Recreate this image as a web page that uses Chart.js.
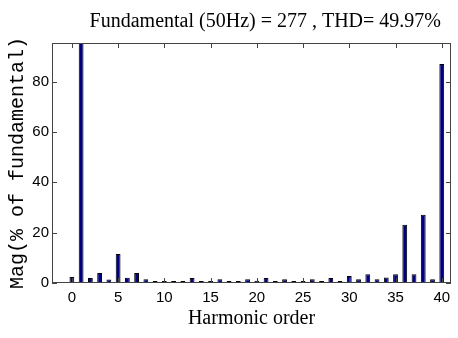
<!DOCTYPE html>
<html>
<head>
<meta charset="utf-8">
<script src="https://cdn.jsdelivr.net/npm/chart.js@4/dist/chart.umd.min.js"></script>
<style>
  body { margin: 0; background: #fff; }
  #wrap { width: 458px; height: 338px; }
</style>
</head>
<body>
<div id="wrap"><canvas id="harmChart"></canvas></div>
<script>
// harmonic order 0..40 and magnitude in % of fundamental
const harmonics = [0, 1, 2, 3, 4, 5, 6, 7, 8, 9, 10, 11, 12, 13, 14, 15, 16, 17, 18, 19, 20,
                   21, 22, 23, 24, 25, 26, 27, 28, 29, 30, 31, 32, 33, 34, 35, 36, 37, 38, 39, 40];
const magnitude = [2.4, 100, 2.0, 4.0, 1.4, 11.5, 2.1, 4.0, 1.5, 0.8, 0.8, 0.8, 0.8, 2.0, 0.8, 0.8, 1.5, 0.8, 0.8, 1.5, 0.9,
                   2.0, 0.8, 1.5, 0.8, 0.8, 1.5, 0.8, 2.0, 0.8, 2.8, 1.5, 3.5, 1.5, 2.2, 3.5, 23.1, 3.5, 27.1, 1.5, 87.0];
const xTicks = [0, 5, 10, 15, 20, 25, 30, 35, 40];
const yTicks = [0, 20, 40, 60, 80];
const titleText = 'Fundamental (50Hz) = 277 , THD= 49.97%';

const frameColor = '#444';

// matlab style box with inward ticks on all four sides
const boxTicks = {
    id: 'boxTicks',
    afterDraw(chart) {
        const { ctx, chartArea: a, scales: { x, y } } = chart;
        const len = 5;
        ctx.save();
        ctx.strokeStyle = frameColor;
        ctx.lineWidth = 1;
        ctx.strokeRect(a.left + 0.5, a.top + 0.5, a.right - a.left - 1, a.bottom - a.top - 1);
        ctx.beginPath();
        xTicks.forEach(v => {
            const px = Math.round(x.getPixelForValue(v)) + 0.5;
            ctx.moveTo(px, a.bottom); ctx.lineTo(px, a.bottom - len);
            ctx.moveTo(px, a.top); ctx.lineTo(px, a.top + len);
        });
        yTicks.forEach(v => {
            const py = Math.round(y.getPixelForValue(v)) + 0.5;
            ctx.moveTo(a.left, py); ctx.lineTo(a.left + len, py);
            ctx.moveTo(a.right, py); ctx.lineTo(a.right - len, py);
        });
        ctx.stroke();
        ctx.restore();
    }
};

const chart = new Chart(document.getElementById('harmChart'), {
    type: 'bar',
    data: {
        datasets: [{
            data: harmonics.map((h, i) => ({ x: h, y: magnitude[i] })),
            backgroundColor: '#000080',
            borderColor: '#000',
            borderWidth: 1,
            barPercentage: 0.52,
            categoryPercentage: 1
        }]
    },
    plugins: [boxTicks],
    options: {
        responsive: true,
        maintainAspectRatio: false,
        animation: false,
        layout: { padding: { top: 0, right: 7, bottom: 0, left: 0 } },
        plugins: {
            legend: { display: false },
            tooltip: { enabled: false },
            title: {
                display: true,
                // two trailing spaces pull the right-aligned title in a bit
                text: titleText + '  ',
                align: 'end',
                color: '#000',
                font: { family: 'Liberation Serif', size: 20, weight: 'normal' },
                padding: { top: 10, bottom: 9 }
            }
        },
        scales: {
            x: {
                type: 'linear',
                min: -2.15,
                max: 41,
                offset: false,
                grid: { display: false, drawTicks: false },
                border: { display: false },
                afterBuildTicks: s => { s.ticks = xTicks.map(v => ({ value: v })); },
                afterFit: s => { s.height = 55; },
                ticks: {
                    color: '#000',
                    padding: 6,
                    maxRotation: 0,
                    font: { family: 'Liberation Sans', size: 15 }
                },
                title: {
                    display: true,
                    text: 'Harmonic order',
                    color: '#000',
                    font: { family: 'Liberation Serif', size: 20 },
                    padding: { top: 0, bottom: 7 }
                }
            },
            y: {
                min: 0,
                max: 95.3,
                grid: { display: false, drawTicks: false },
                border: { display: false },
                afterBuildTicks: s => { s.ticks = yTicks.map(v => ({ value: v })); },
                afterFit: s => { s.width = 52; },
                ticks: {
                    color: '#000',
                    padding: 3,
                    font: { family: 'Liberation Sans', size: 15 }
                },
                title: {
                    display: true,
                    text: 'Mag(% of fundamental)',
                    color: '#000',
                    font: { family: 'Liberation Mono', size: 20 },
                    padding: { top: 6, bottom: 0 }
                }
            }
        }
    }
});
</script>
</body>
</html>
